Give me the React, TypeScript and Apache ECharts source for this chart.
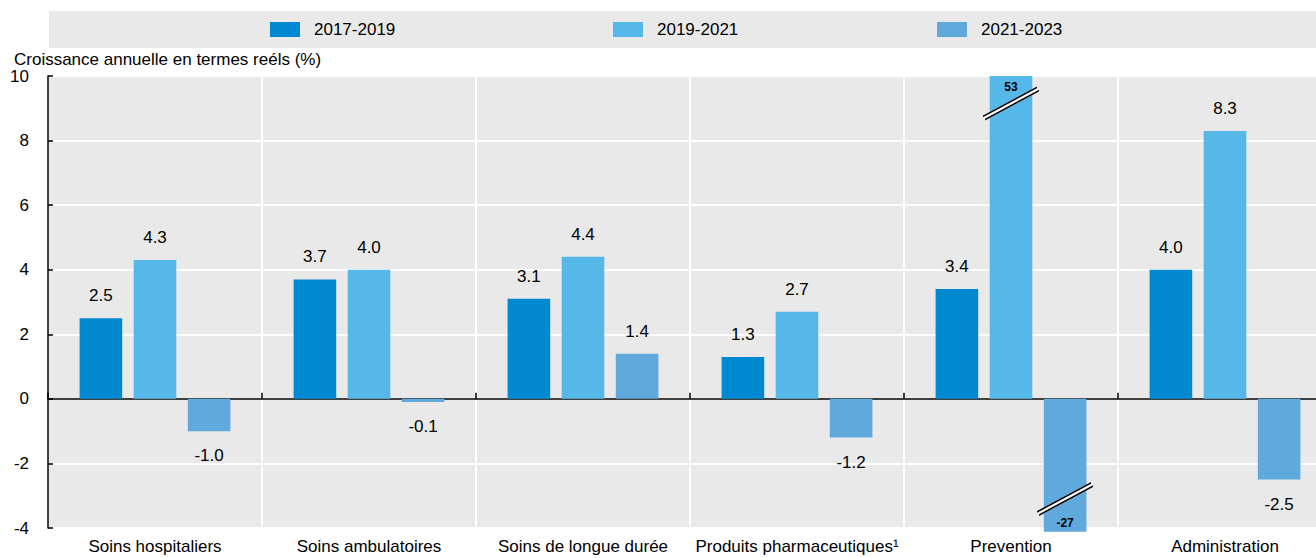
import React, { useEffect, useRef } from "react";
import * as echarts from "echarts";

const categories = [
  "Soins hospitaliers",
  "Soins ambulatoires",
  "Soins de longue durée",
  "Produits pharmaceutiques¹",
  "Prevention",
  "Administration",
];
const seriesNames = ["2017-2019", "2019-2021", "2021-2023"];
const values2017_2019 = [2.5, 3.7, 3.1, 1.3, 3.4, 4.0];
const values2019_2021 = [4.3, 4.0, 4.4, 2.7, 53, 8.3];
const values2021_2023 = [-1.0, -0.1, 1.4, -1.2, -27, -2.5];
const seriesColors = ["#0088d0", "#55b8e8", "#5fa9dd"];

const AXIS_MIN = -4;
const AXIS_MAX = 10;
const AXIS_INTERVAL = 2;
const BREAK_BOTTOM = -4.12;
const BREAK_MARK_HIGH = 9.15;
const BREAK_MARK_LOW = -3.1;

const FONT = "'Liberation Sans', Arial, Helvetica, sans-serif";

const BAND_PATH = "path://M0 29 L54 0 L56 3.2 L56 5 L2 34 L0 30.8 Z";
const LINES_PATH =
  "path://M0 29 L54 0 L54 1.8 L0 30.8 Z M2 32.2 L56 3.2 L56 5 L2 34 Z";

function toItems(vals: number[]) {
  return vals.map((v) => {
    if (v > AXIS_MAX) {
      return {
        value: AXIS_MAX,
        label: {
          position: "insideTop",
          distance: 5,
          fontSize: 12,
          fontWeight: "bold",
          formatter: String(v),
        },
      };
    }
    if (v < AXIS_MIN) {
      return {
        value: BREAK_BOTTOM,
        label: {
          position: "insideBottom",
          distance: 3,
          fontSize: 12,
          fontWeight: "bold",
          formatter: String(v),
        },
      };
    }
    return {
      value: v,
      label: {
        position: v >= 0 ? "top" : "bottom",
        distance: v >= 0 ? 14 : 16,
        formatter: v.toFixed(1),
      },
    };
  });
}

function breakMarks(vals: number[]) {
  const out: any[] = [];
  vals.forEach((v, i) => {
    if (v > AXIS_MAX || v < AXIS_MIN) {
      const y = v > AXIS_MAX ? BREAK_MARK_HIGH : BREAK_MARK_LOW;
      out.push({ coord: [i, y], symbol: BAND_PATH, itemStyle: { color: "#ffffff" } });
      out.push({ coord: [i, y], symbol: LINES_PATH, itemStyle: { color: "#000000" } });
    }
  });
  return out;
}

export default function App() {
  const ref = useRef<HTMLDivElement>(null);
  useEffect(() => {
    if (!ref.current) return;
    const chart = echarts.init(ref.current, undefined, { renderer: "svg" });
    const allValues = [values2017_2019, values2019_2021, values2021_2023];
    const legendLefts = [270, 613, 937];
    const option: any = {
      animation: false,
      textStyle: { fontFamily: FONT, color: "#000" },
      title: {
        text: "Croissance annuelle en termes reéls (%)",
        left: 14,
        top: 51,
        padding: 0,
        textStyle: { fontFamily: FONT, fontSize: 17, fontWeight: "normal", color: "#000" },
      },
      graphic: [
        {
          type: "rect",
          z: -1,
          silent: true,
          shape: { x: 49, y: 11, width: 1280, height: 37 },
          style: { fill: "#e9e9e9" },
        },
      ],
      legend: seriesNames.map((n, i) => ({
        data: [n],
        left: legendLefts[i],
        top: 21,
        padding: 0,
        itemWidth: 30,
        itemHeight: 15,
        icon: "rect",
        selectedMode: false,
        textStyle: { fontFamily: FONT, fontSize: 17, color: "#000", padding: [0, 0, 0, 9] },
      })),
      grid: {
        left: 48,
        right: -16,
        top: 76,
        bottom: 30,
        show: true,
        backgroundColor: "#e9e9e9",
        borderWidth: 0,
        containLabel: false,
        outerBoundsMode: "none",
      },
      xAxis: [
        {
          type: "category",
          data: categories,
          position: "bottom",
          axisLine: { show: true, onZero: true, lineStyle: { color: "#000", width: 1.5 } },
          axisTick: { show: true, inside: true, length: 6, interval: 0, lineStyle: { color: "#000", width: 1.5 } },
          axisLabel: { show: false },
          splitLine: { show: true, interval: 0, lineStyle: { color: "#ffffff", width: 2 } },
        },
        {
          type: "category",
          data: categories,
          position: "bottom",
          axisLine: { show: false, onZero: false },
          axisTick: { show: false },
          axisLabel: { show: true, interval: 0, fontSize: 17, color: "#000", fontFamily: FONT, margin: 10 },
          splitLine: { show: false },
        },
      ],
      yAxis: {
        type: "value",
        min: AXIS_MIN,
        max: AXIS_MAX,
        interval: AXIS_INTERVAL,
        axisLine: { show: true, lineStyle: { color: "#000", width: 1.5 } },
        axisTick: { show: true, inside: true, length: 5, lineStyle: { color: "#000", width: 1.5 } },
        axisLabel: { fontSize: 17, color: "#000", fontFamily: FONT, margin: 19 },
        splitLine: { show: true, lineStyle: { color: "#ffffff", width: 2 } },
      },
      series: seriesNames.map((name, i) => ({
        name,
        type: "bar",
        xAxisIndex: 0,
        barWidth: 42.6,
        barGap: "27%",
        clip: false,
        itemStyle: { color: seriesColors[i] },
        label: { show: true, fontSize: 17, color: "#000", fontFamily: FONT },
        data: toItems(allValues[i]),
        markPoint: {
          symbolSize: [56, 34],
          label: { show: false },
          silent: true,
          data: breakMarks(allValues[i]),
        },
      })),
    };
    chart.setOption(option);
    return () => chart.dispose();
  }, []);
  return (
    <div
      ref={ref}
      style={{ position: "absolute", left: 0, top: 0, width: 1316, height: 558, background: "#fff" }}
    />
  );
}
